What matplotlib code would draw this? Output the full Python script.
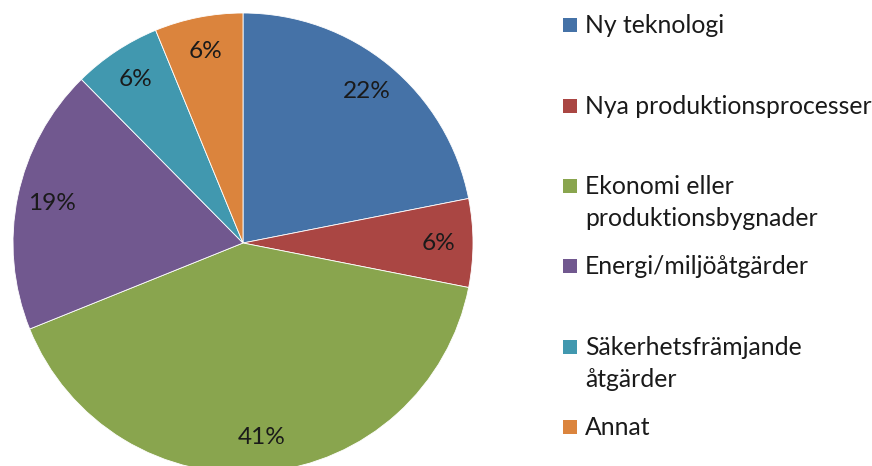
import matplotlib
matplotlib.use("Agg")
import matplotlib.pyplot as plt
from matplotlib.patches import Rectangle

categories = ["Ny teknologi", "Nya produktionsprocesser", "Ekonomi eller\nproduktionsbygnader",
              "Energi/miljöåtgärder", "Säkerhetsfrämjande\nåtgärder", "Annat"]
values = [21.9, 6.2, 40.8, 18.7, 6.2, 6.2]
colors = ["#4572A7", "#AA4643", "#89A54E", "#71588F", "#4198AF", "#DB843D"]

plt.rcParams['font.family'] = ['Lato', 'DejaVu Sans']

W, H = 872, 466
fig = plt.figure(figsize=(W / 100, H / 100), dpi=100)
fig.patch.set_facecolor("white")

cx, cy, r = 243, 243, 230
ax = fig.add_axes([(cx - r) / W, (H - cy - r) / H, 2 * r / W, 2 * r / H])
wedges, texts, autotexts = ax.pie(values, colors=colors, startangle=90, counterclock=False,
                                  autopct=lambda p: f"{p:.0f}%", pctdistance=0.85,
                                  wedgeprops=dict(edgecolor="white", linewidth=0.6),
                                  textprops=dict(fontsize=17.6, color="#1a1a1a"))
ax.set_xlim(-1, 1)
ax.set_ylim(-1, 1)
ax.set_aspect("equal")
ax.axis("off")

# legend
y_first = [25, 106, 186, 266, 347, 427]
for lab, col, yy in zip(categories, colors, y_first):
    fig.patches.append(Rectangle((563 / W, (H - yy - 7) / H), 14 / W, 14 / H,
                                 transform=fig.transFigure, facecolor=col, edgecolor="none"))
    fig.text(585 / W, (H - yy - 8) / H, lab.split("\n")[0], ha="left", va="baseline",
             fontsize=17.8, color="#1a1a1a")
    if "\n" in lab:
        fig.text(585 / W, (H - yy - 8 - 32) / H, lab.split("\n")[1], ha="left", va="baseline",
                 fontsize=17.8, color="#1a1a1a")

fig.savefig("out.png", dpi=100, facecolor="white")
